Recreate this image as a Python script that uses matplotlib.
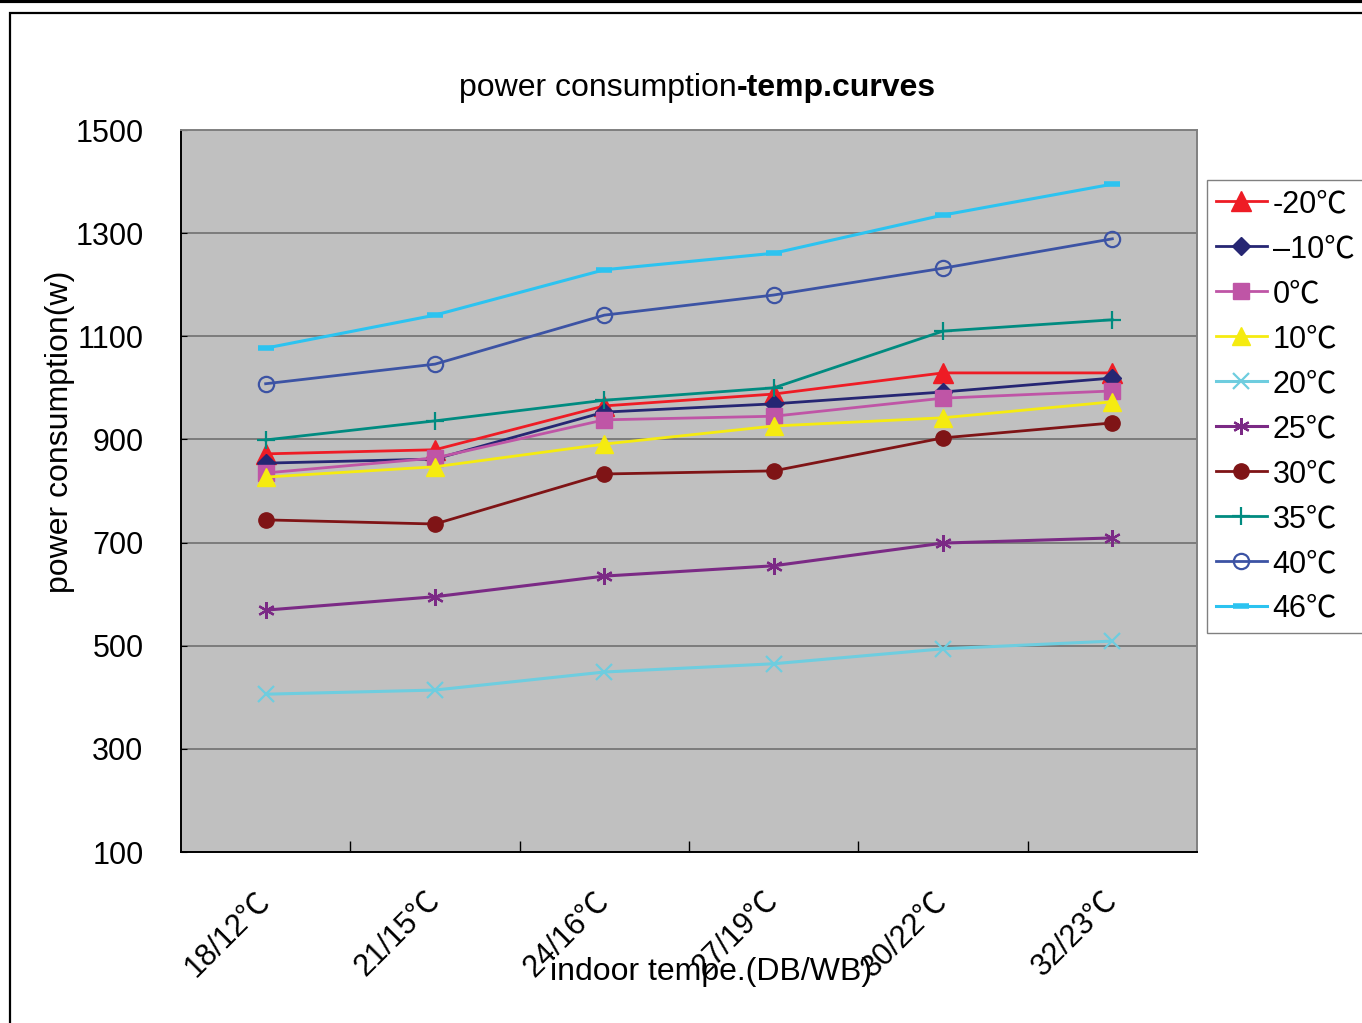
import matplotlib
matplotlib.use("Agg")
import matplotlib.pyplot as plt
from matplotlib.patches import Rectangle
from matplotlib.lines import Line2D
from matplotlib.transforms import ScaledTranslation

plt.rcParams['font.family'] = ['Liberation Sans', 'Noto Sans CJK SC', 'DejaVu Sans']

# indoor temperature categories (DB/WB)
categories = ["18/12℃", "21/15℃", "24/16℃", "27/19℃", "30/22℃", "32/23℃"]

# power consumption (W) per outdoor temperature
p_m20 = [872, 880, 965, 988, 1029, 1029]
p_m10 = [854, 862, 953, 969, 992, 1019]
p_0 = [835, 864, 938, 945, 980, 994]
p_10 = [827, 847, 891, 926, 942, 973]
p_20 = [406, 414, 449, 465, 494, 509]
p_25 = [569, 595, 635, 655, 699, 709]
p_30 = [744, 736, 833, 839, 903, 932]
p_35 = [899, 936, 976, 1000, 1110, 1132]
p_40 = [1008, 1046, 1141, 1180, 1232, 1289]
p_46 = [1077, 1141, 1229, 1261, 1335, 1395]

labels = ["-20℃", "–10℃", "0℃", "10℃", "20℃", "25℃", "30℃", "35℃", "40℃", "46℃"]

W, H = 1362, 1023
fig = plt.figure(figsize=(W / 100, H / 100), dpi=100)
fig.patch.set_facecolor("white")

# outer chart frame
fig.add_artist(Rectangle((10 / W, -0.1), 2.0, 1 - 13 / H + 0.1, transform=fig.transFigure,
                         fill=False, ec="black", lw=1.6))
fig.add_artist(Line2D([0, 1], [1 - 1 / H, 1 - 1 / H], transform=fig.transFigure,
                      color="black", lw=3))

ax = fig.add_axes([181 / W, 1 - 852 / H, (1197 - 181) / W, (852 - 130) / H])
ax.set_facecolor("#C0C0C0")

x = list(range(len(categories)))
ax.plot(x, p_m20, color="#EE1C25", lw=2, marker="^", ms=14, label=labels[0], zorder=3)
ax.plot(x, p_m10, color="#262673", lw=2, marker="D", ms=9, label=labels[1], zorder=3)
ax.plot(x, p_0, color="#BF55A6", lw=2, marker="s", ms=11, label=labels[2], zorder=3)
ax.plot(x, p_10, color="#F5EB10", lw=2, marker="^", ms=13, label=labels[3], zorder=3)
ax.plot(x, p_20, color="#6ECDDF", lw=2.2, marker="x", ms=11, mew=1.6, label=labels[4], zorder=3)
ax.plot(x, p_25, color="#7B2A85", lw=2.2, marker=(6, 2, 0), ms=12, mew=1.6, label=labels[5], zorder=3)
ax.plot(x, p_30, color="#7F1416", lw=2, marker="o", ms=11, label=labels[6], zorder=3)
ax.plot(x, p_35, color="#008B80", lw=2, marker="+", ms=13, mew=1.6, label=labels[7], zorder=3)
ax.plot(x, p_40, color="#3C53A4", lw=2, marker="o", ms=11, mfc="none", mew=1.6, label=labels[8], zorder=3)
ax.plot(x, p_46, color="#2CC3F0", lw=2.2, marker="_", ms=12, mew=4, label=labels[9], zorder=3)

ax.set_xlim(-0.5, len(categories) - 0.5)
ax.set_ylim(100, 1500)
ax.set_yticks(range(100, 1501, 200))
ax.grid(axis="y", color="#707070", lw=1.2)
ax.set_axisbelow(True)

ax.set_xticks(x)
ax.set_xticklabels(categories, rotation=45, ha="right", rotation_mode="anchor")
ax.set_xticks([i + 0.5 for i in x[:-1]], minor=True)
ax.tick_params(axis="x", which="major", length=0, pad=24, labelsize=22)
ax.tick_params(axis="x", which="minor", direction="in", length=8, width=1)
ax.tick_params(axis="y", direction="in", length=4, pad=27, labelsize=22)

for s in ("left", "bottom"):
    ax.spines[s].set_color("black")
    ax.spines[s].set_linewidth(1.4)
for s in ("top", "right"):
    ax.spines[s].set_color("#808080")
    ax.spines[s].set_linewidth(1.4)

ax.set_ylabel("power consumption(w)", fontsize=23)
ax.yaxis.set_label_coords(-0.119, 0.582)
ax.yaxis.label.set_va("center")
ax.set_xlabel("indoor tempe.(DB/WB)", fontsize=23)
ax.xaxis.set_label_coords(0.522, -0.166)
ax.xaxis.label.set_va("center")

fig.text(737 / W, 1 - 88 / H, "power consumption", ha="right", va="center", fontsize=23)
fig.text(737 / W, 1 - 88 / H, "-temp.curves", ha="left", va="center", fontsize=23, fontweight="bold")

leg = ax.legend(loc="upper left", bbox_to_anchor=(1207 / W, 1 - 180 / H),
                bbox_transform=fig.transFigure, fontsize=22, numpoints=1,
                handlelength=1.65, handletextpad=0.2, labelspacing=0.49,
                borderaxespad=0, borderpad=0.3, fancybox=False, framealpha=1)
leg.get_frame().set_edgecolor("#808080")
leg.get_frame().set_linewidth(1)

# nudge the rotated category labels to the left
shift = ScaledTranslation(-11 / 100, 0, fig.dpi_scale_trans)
for lab in ax.get_xticklabels():
    lab.set_transform(lab.get_transform() + shift)

fig.savefig("out.png", dpi=100)
